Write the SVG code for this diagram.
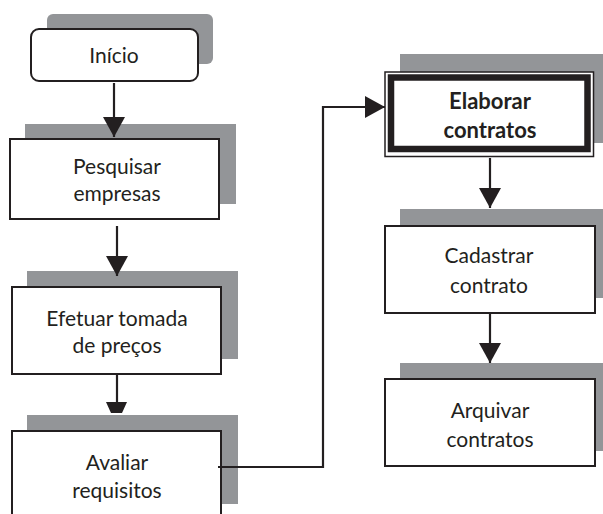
<svg xmlns="http://www.w3.org/2000/svg" width="603" height="514" viewBox="0 0 603 514">
<defs>
<style>
.sh{fill:#939598;stroke:none}
.bx{fill:#fff;stroke:#231f20;stroke-width:2}
.t{font-family:Lato,"Open Sans","Noto Sans",sans-serif;font-size:21px;font-weight:400;fill:#231f20;text-anchor:middle}
.tb{font-weight:bold;font-size:22px}
.ln{fill:none;stroke:#231f20;stroke-width:2.2}
</style>
<marker id="ah" markerUnits="userSpaceOnUse" markerWidth="22" markerHeight="22" viewBox="0 0 20 22" refX="20" refY="11" orient="auto">
<path d="M0,0 L20,11 L0,22 Z" fill="#231f20"/>
</marker>
</defs>
<rect x="0" y="0" width="603" height="514" fill="#fff"/>
<g id="inicio">
<rect class="sh" x="47" y="14" width="166" height="50" rx="6"/>
<rect class="bx" x="31" y="29" width="167" height="52" rx="8"/>
<text class="t" x="114" y="63">Início</text>
</g>
<g id="pesquisar">
<rect class="sh" x="25" y="124" width="211" height="80"/>
<rect class="bx" x="10" y="139" width="209" height="80"/>
<text class="t" x="117" y="174">Pesquisar</text>
<text class="t" x="117" y="201">empresas</text>
</g>
<g id="efetuar">
<rect class="sh" x="27" y="271" width="211" height="88"/>
<rect class="bx" x="12" y="287" width="209" height="87"/>
<text class="t" x="117" y="326">Efetuar tomada</text>
<text class="t" x="117" y="353">de preços</text>
</g>
<g id="avaliar">
<rect class="sh" x="27" y="415" width="211" height="89"/>
<rect class="bx" x="12" y="431" width="209" height="90"/>
<text class="t" x="117" y="470">Avaliar</text>
<text class="t" x="117" y="498">requisitos</text>
</g>
<g id="elaborar">
<rect class="sh" x="400" y="54" width="203" height="89"/>
<rect x="385" y="72" width="208.5" height="84.5" fill="#fff" stroke="#231f20" stroke-width="1.5"/>
<rect x="391" y="77.5" width="196.5" height="71.5" fill="#fff" stroke="#231f20" stroke-width="6.5"/>
<text class="t tb" x="490" y="109">Elaborar</text>
<text class="t tb" x="490" y="138">contratos</text>
</g>
<g id="cadastrar">
<rect class="sh" x="400" y="209" width="203" height="89"/>
<rect class="bx" x="385" y="226" width="210" height="87"/>
<text class="t" x="489" y="263">Cadastrar</text>
<text class="t" x="489" y="293">contrato</text>
</g>
<g id="arquivar">
<rect class="sh" x="400" y="363" width="203" height="88"/>
<rect class="bx" x="385" y="379" width="210" height="87"/>
<text class="t" x="490" y="418">Arquivar</text>
<text class="t" x="490" y="447">contratos</text>
</g>
<g id="connectors">
<line class="ln" x1="114" y1="83" x2="114" y2="137" marker-end="url(#ah)"/>
<line class="ln" x1="117" y1="226" x2="117" y2="276" marker-end="url(#ah)"/>
<line class="ln" x1="117" y1="374" x2="117" y2="403"/>
<polygon points="106,402 127,402 122,413 111,413" fill="#231f20"/>
<polyline class="ln" points="218,467 323,467 323,107 385,107" marker-end="url(#ah)"/>
<line class="ln" x1="490" y1="158" x2="490" y2="208" marker-end="url(#ah)"/>
<line class="ln" x1="490" y1="313" x2="490" y2="363" marker-end="url(#ah)"/>
</g>
</svg>
